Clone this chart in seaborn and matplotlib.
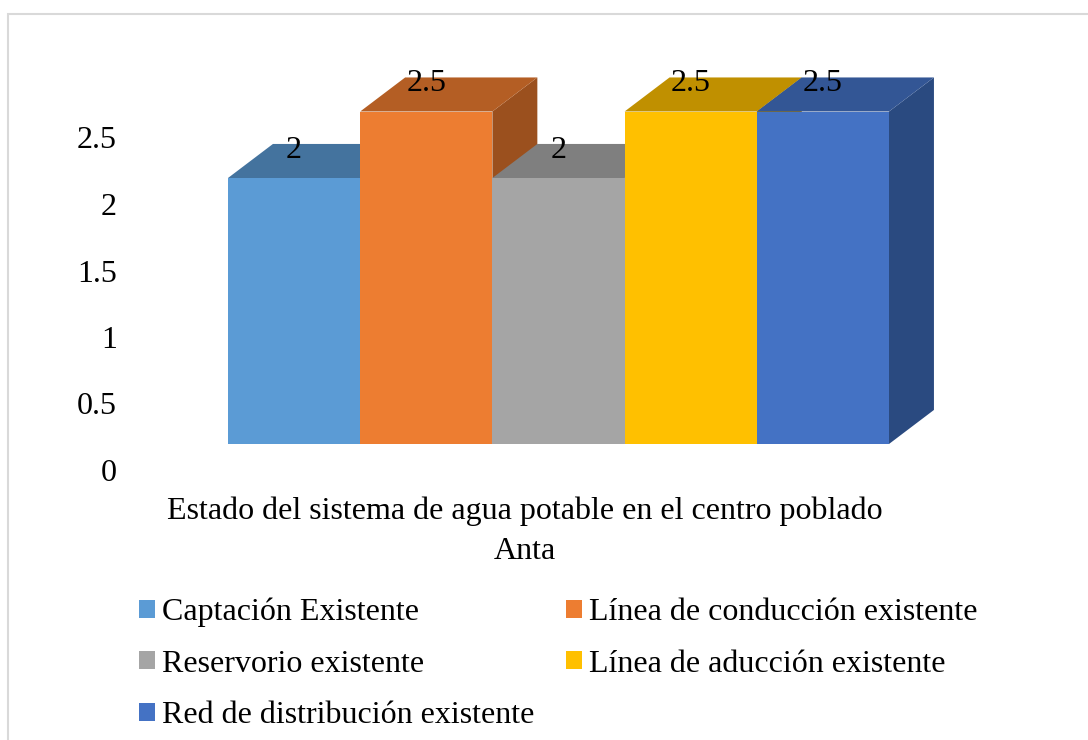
import matplotlib
matplotlib.use('Agg')
import matplotlib.pyplot as plt
import matplotlib.transforms as mtransforms
from matplotlib.patches import Polygon, Rectangle
import seaborn as sns
import numpy as np

# datos
categorias = ['Captación Existente', 'Línea de conducción existente', 'Reservorio existente',
              'Línea de aducción existente', 'Red de distribución existente']
valores = [2, 2.5, 2, 2.5, 2.5]
ticks_y = [0, 0.5, 1, 1.5, 2, 2.5]
etiquetas_y = ['0', '0.5', '1', '1.5', '2', '2.5']
titulo = 'Estado del sistema de agua potable en el centro poblado\nAnta'

col_frente = ['#5B9BD5', '#ED7D31', '#A5A5A5', '#FFC000', '#4472C4']
col_arriba = ['#44739E', '#B45E24', '#7F7F7F', '#C09000', '#335695']
col_lado = ['#3C6892', '#9B501E', '#6E6E6E', '#A67C00', '#2A4A80']

sns.set_style('white')
plt.rcParams['font.family'] = ['Liberation Serif', 'DejaVu Serif']
plt.rcParams['text.color'] = 'black'
plt.rcParams['ytick.color'] = 'black'
plt.rcParams['ytick.labelcolor'] = 'black'
fs = 23

fig = plt.figure(figsize=(10.88, 7.40), dpi=100)
ax = fig.add_axes([228 / 1088, 296 / 740, 661 / 1088, 399 / 740])

sns.barplot(x=categorias, y=valores, hue=categorias, palette=col_frente,
            width=1, saturation=1, linewidth=0, ax=ax, legend=True)
ax.set_xlim(-0.5, 4.5)
ax.set_ylim(0, 3)

# profundidad 3D (pseudo)
dx, dy = 0.34, 0.256
for i, v in enumerate(valores):
    x0, x1 = i - 0.5, i + 0.5
    lado = Polygon([(x1, 0), (x1 + dx, dy), (x1 + dx, v + dy), (x1, v)],
                   closed=True, facecolor=col_lado[i], edgecolor='none',
                   zorder=10 + 3 * i, clip_on=False)
    arriba = Polygon([(x0, v), (x1, v), (x1 + dx, v + dy), (x0 + dx, v + dy)],
                     closed=True, facecolor=col_arriba[i], edgecolor='none',
                     zorder=11 + 3 * i, clip_on=False)
    ax.add_patch(lado)
    ax.add_patch(arriba)
    ax.text(i, v + 0.21, f'{v:g}', ha='center', va='center', fontsize=fs,
            color='black', zorder=40, clip_on=False)

for i, p in enumerate(ax.patches[:len(valores)]):
    p.set_zorder(12 + 3 * i)

handles, labels = ax.get_legend_handles_labels()
ax.get_legend().remove()

ax.set_yticks(ticks_y)
ax.set_yticklabels(etiquetas_y, fontsize=fs, color='black')
ax.tick_params(axis='y', length=0, pad=80)
ax.set_xticks([])
ax.set_xlabel('')
sns.despine(ax=ax, left=True, bottom=True)
off = mtransforms.ScaledTranslation(0, -0.26, fig.dpi_scale_trans)
for lab in ax.get_yticklabels():
    lab.set_transform(lab.get_transform() + off)

fig.text(525 / 1088, 1 - 531 / 740, titulo, ha='center', va='center',
         fontsize=fs, linespacing=1.5, color='black')

orden = [0, 2, 4, 1, 3]
fig.legend([handles[k] for k in orden], [labels[k] for k in orden],
           ncol=2, loc='upper left', bbox_to_anchor=(110 / 1088, 1 - 569 / 740),
           frameon=False, fontsize=fs, handlelength=0.5, handleheight=0.5,
           handletextpad=0.22, columnspacing=1.0, labelspacing=0.7,
           labelcolor='black')

fig.patches.append(Rectangle((8 / 1088, -0.1), 1.2, 1.1 - 14 / 740,
                             transform=fig.transFigure, fill=False,
                             edgecolor='#D9D9D9', linewidth=1.5))

fig.savefig('out.png', dpi=100)
